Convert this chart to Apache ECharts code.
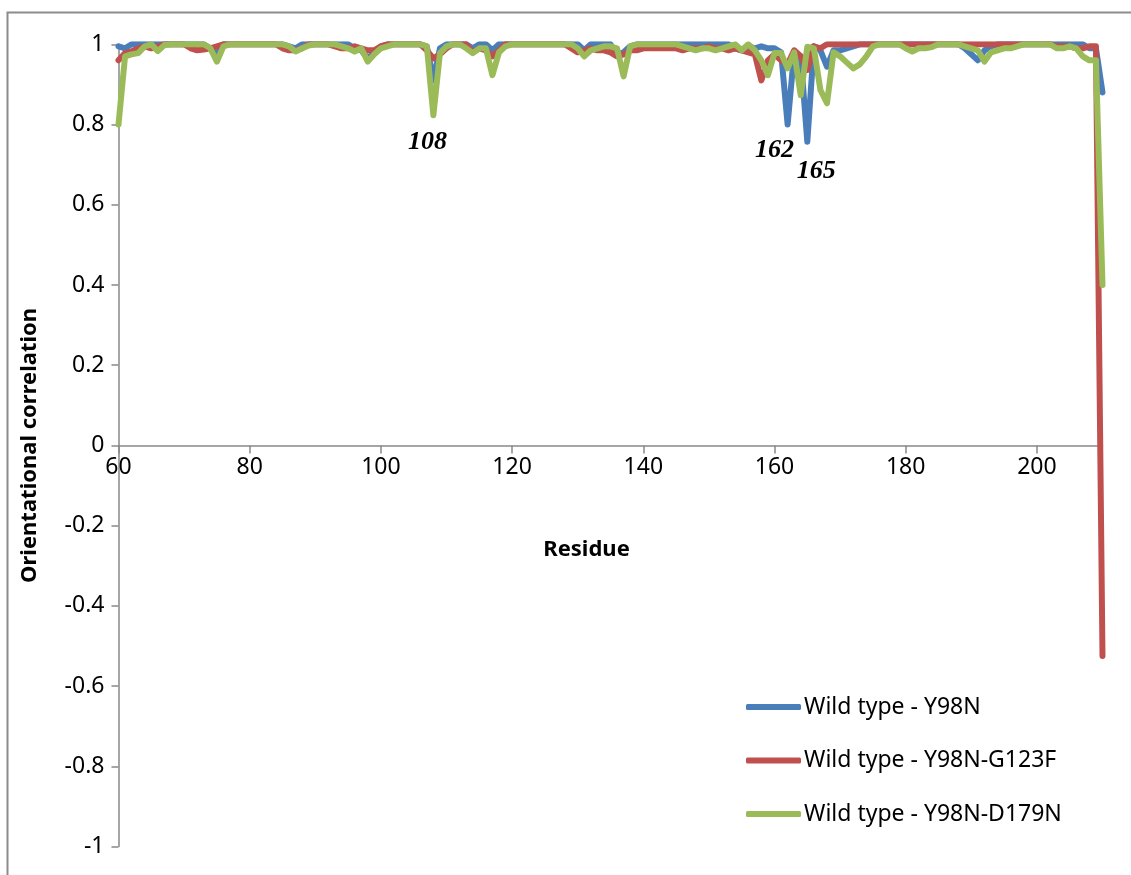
<!DOCTYPE html>
<html>
<head>
<meta charset="utf-8">
<script src="https://cdn.jsdelivr.net/npm/echarts@6/dist/echarts.min.js"></script>
<style>
  html, body { margin: 0; padding: 0; background: #ffffff; }
  #chart { width: 1131px; height: 875px; }
</style>
</head>
<body>
<div id="chart"></div>
<script>
// Orientational correlation per residue (residues 60..210)
const firstResidue = 60;

const wtY98N = [
  0.995, 0.99, 1.0, 1.0, 1.0, 1.0, 1.0, 1.0, 1.0, 1.0,          // 60-69
  1.0, 1.0, 1.0, 1.0, 0.99, 0.975, 1.0, 1.0, 1.0, 1.0,          // 70-79
  1.0, 1.0, 1.0, 1.0, 1.0, 1.0, 0.995, 0.99, 1.0, 1.0,          // 80-89
  1.0, 1.0, 1.0, 1.0, 1.0, 1.0, 0.99, 0.985, 0.965, 0.98,       // 90-99
  0.995, 1.0, 1.0, 1.0, 1.0, 1.0, 1.0, 0.995, 0.91, 0.99,       // 100-109
  1.0, 1.0, 1.0, 1.0, 0.99, 1.0, 1.0, 0.985, 1.0, 1.0,          // 110-119
  1.0, 1.0, 1.0, 1.0, 1.0, 1.0, 1.0, 1.0, 1.0, 1.0,             // 120-129
  1.0, 0.985, 1.0, 1.0, 1.0, 1.0, 0.975, 0.98, 0.995, 1.0,      // 130-139
  1.0, 1.0, 1.0, 1.0, 1.0, 1.0, 1.0, 1.0, 1.0, 1.0,             // 140-149
  1.0, 1.0, 1.0, 1.0, 0.99, 0.985, 0.995, 0.99, 0.995, 0.99,    // 150-159
  0.99, 0.98, 0.80, 0.98, 0.97, 0.757, 0.995, 0.985, 0.944, 0.985, // 160-169
  0.985, 0.99, 0.995, 1.0, 1.0, 1.0, 1.0, 1.0, 1.0, 1.0,        // 170-179
  1.0, 1.0, 1.0, 1.0, 1.0, 1.0, 1.0, 1.0, 1.0, 0.99,            // 180-189
  0.975, 0.96, 0.985, 0.995, 1.0, 1.0, 1.0, 1.0, 1.0, 1.0,      // 190-199
  1.0, 1.0, 1.0, 1.0, 1.0, 1.0, 1.0, 1.0, 0.99, 0.99,           // 200-209
  0.88                                                          // 210
];

const wtY98N_G123F = [
  0.96, 0.978, 0.982, 0.99, 0.995, 0.99, 0.995, 1.0, 1.0, 1.0,  // 60-69
  1.0, 0.99, 0.985, 0.987, 0.99, 0.995, 1.0, 1.0, 1.0, 1.0,     // 70-79
  1.0, 1.0, 1.0, 1.0, 1.0, 0.99, 0.985, 0.985, 0.99, 1.0,       // 80-89
  1.0, 1.0, 1.0, 0.995, 0.99, 0.99, 0.995, 0.99, 0.985, 0.985,  // 90-99
  0.995, 1.0, 1.0, 1.0, 1.0, 1.0, 1.0, 0.985, 0.965, 0.975,     // 100-109
  0.99, 1.0, 1.0, 1.0, 0.98, 0.99, 0.985, 0.97, 0.985, 1.0,     // 110-119
  1.0, 1.0, 1.0, 1.0, 1.0, 1.0, 1.0, 1.0, 1.0, 0.99,            // 120-129
  0.98, 0.985, 0.99, 0.985, 0.985, 0.98, 0.97, 0.975, 0.985, 0.985, // 130-139
  0.99, 0.99, 0.99, 0.99, 0.99, 0.99, 0.985, 0.99, 0.99, 0.99,  // 140-149
  0.995, 0.99, 0.99, 0.985, 0.99, 0.985, 0.98, 0.975, 0.91, 0.96, // 150-159
  0.975, 0.96, 0.95, 0.985, 0.97, 0.936, 0.995, 0.99, 1.0, 1.0, // 160-169
  1.0, 1.0, 1.0, 1.0, 1.0, 1.0, 1.0, 1.0, 1.0, 1.0,             // 170-179
  1.0, 1.0, 1.0, 1.0, 1.0, 1.0, 1.0, 1.0, 1.0, 1.0,             // 180-189
  1.0, 1.0, 1.0, 1.0, 1.0, 1.0, 1.0, 1.0, 1.0, 1.0,             // 190-199
  1.0, 1.0, 1.0, 0.995, 0.995, 0.995, 0.99, 0.99, 0.995, 0.995, // 200-209
  -0.525                                                        // 210
];

const wtY98N_D179N = [
  0.80, 0.97, 0.975, 0.978, 0.995, 1.0, 0.983, 0.998, 1.0, 1.0, // 60-69
  1.0, 1.0, 1.0, 1.0, 0.99, 0.957, 0.995, 1.0, 1.0, 1.0,        // 70-79
  1.0, 1.0, 1.0, 1.0, 1.0, 1.0, 0.995, 0.982, 0.99, 0.997,      // 80-89
  1.0, 1.0, 1.0, 1.0, 0.995, 0.99, 0.982, 0.99, 0.957, 0.975,   // 90-99
  0.99, 0.995, 1.0, 1.0, 1.0, 1.0, 1.0, 0.995, 0.823, 0.978,    // 100-109
  0.995, 1.0, 1.0, 0.99, 0.978, 0.99, 0.99, 0.923, 0.98, 0.995, // 110-119
  1.0, 1.0, 1.0, 1.0, 1.0, 1.0, 1.0, 1.0, 1.0, 1.0,             // 120-129
  0.99, 0.97, 0.985, 0.99, 0.995, 0.995, 0.99, 0.92, 0.995, 1.0, // 130-139
  1.0, 1.0, 1.0, 1.0, 1.0, 1.0, 0.995, 0.99, 0.985, 0.99,       // 140-149
  0.99, 0.985, 0.99, 0.995, 1.0, 0.985, 1.0, 0.985, 0.96, 0.923, // 150-159
  0.978, 0.978, 0.94, 0.98, 0.873, 0.994, 0.99, 0.886, 0.853, 0.98, // 160-169
  0.97, 0.955, 0.94, 0.95, 0.97, 0.995, 1.0, 1.0, 1.0, 1.0,     // 170-179
  0.99, 0.982, 0.99, 0.99, 0.993, 1.0, 1.0, 1.0, 1.0, 0.995,    // 180-189
  0.99, 0.985, 0.957, 0.98, 0.985, 0.99, 0.99, 0.995, 1.0, 1.0, // 190-199
  1.0, 1.0, 1.0, 0.99, 0.99, 0.995, 0.99, 0.97, 0.96, 0.96,     // 200-209
  0.4                                                           // 210
];

const seriesNames = [
  'Wild type - Y98N',
  'Wild type - Y98N-G123F',
  'Wild type - Y98N-D179N'
];
const seriesColors = ['#4a7ebb', '#c0504d', '#9bbb59'];

const xTicks = [60, 80, 100, 120, 140, 160, 180, 200];

// Residues called out below the dips
const calloutResidues = [108, 162, 165];

const residues = wtY98N.map((_, i) => firstResidue + i);
const pairs = values => values.map((v, i) => [residues[i], v]);
const valueAt = (values, residue) => values[residue - firstResidue];

const axisGray = '#898989';
const labelFont = 'Noto Sans';

// Plot frame in pixels; the residue axis is lifted to the zero line
const gridTop = 44.3;
const gridBottom = 28.5;
const chartHeight = 875;
const zeroLift = (chartHeight - gridBottom - gridTop) / 2;

const calloutLabel = (offset) => ({
  show: true,
  position: 'inside',
  offset: offset,
  formatter: '{b}',
  fontFamily: 'Liberation Serif',
  fontStyle: 'italic',
  fontWeight: 'bold',
  fontSize: 26,
  color: '#000000'
});

const lineSeries = (name, values, color, markPoints) => ({
  name: name,
  type: 'line',
  data: pairs(values),
  showSymbol: false,
  symbol: 'none',
  smooth: false,
  color: color,
  lineStyle: { width: 6, color: color, cap: 'round', join: 'round' },
  emphasis: { disabled: true },
  markPoint: markPoints ? {
    symbol: 'circle',
    symbolSize: 1,
    itemStyle: { color: 'rgba(0,0,0,0)' },
    animation: false,
    data: markPoints
  } : undefined
});

const chart = echarts.init(document.getElementById('chart'), null, { renderer: 'canvas' });

chart.setOption({
  animation: false,
  backgroundColor: '#ffffff',
  textStyle: { fontFamily: labelFont },
  graphic: [{
    type: 'rect',
    shape: { x: 7.5, y: 12.5, width: 1400, height: 1200 },
    style: { fill: 'none', stroke: '#8c8c8c', lineWidth: 2 },
    silent: true
  }],
  grid: { left: 118.5, top: gridTop, right: 28.5, bottom: gridBottom, outerBoundsMode: 'none', containLabel: false },
  legend: {
    orient: 'vertical',
    left: 741,
    top: 689,
    itemWidth: 55,
    itemHeight: 6,
    itemGap: 27.5,
    icon: 'roundRect',
    selectedMode: false,
    data: seriesNames,
    textStyle: { fontFamily: labelFont, fontSize: 23, color: '#000000', lineHeight: 26, padding: [0, 0, 0, -2] }
  },
  xAxis: {
    type: 'value',
    min: 60,
    max: 210,
    interval: 20,
    offset: -zeroLift,
    name: 'Residue',
    nameLocation: 'middle',
    nameGap: 93,
    nameTextStyle: { fontFamily: labelFont, fontWeight: 'bold', fontSize: 22, color: '#000000', padding: [0, 48, 0, 0] },
    axisLine: { onZero: false, lineStyle: { color: axisGray, width: 1.5 } },
    axisTick: { show: true, length: 8, customValues: xTicks, lineStyle: { color: axisGray, width: 1.5 } },
    axisLabel: { customValues: xTicks, margin: 11, fontFamily: labelFont, fontSize: 23, color: '#000000' },
    splitLine: { show: false }
  },
  yAxis: {
    type: 'value',
    min: -1,
    max: 1,
    interval: 0.2,
    name: 'Orientational correlation',
    nameLocation: 'middle',
    nameRotate: 90,
    nameGap: 78,
    nameTextStyle: { fontFamily: labelFont, fontWeight: 'bold', fontSize: 22, color: '#000000' },
    axisLine: { show: true, onZero: false, lineStyle: { color: axisGray, width: 1.5 } },
    axisTick: { show: true, length: 7, lineStyle: { color: axisGray, width: 1.5 } },
    axisLabel: { margin: 14, fontFamily: labelFont, fontSize: 23, color: '#000000' },
    splitLine: { show: false }
  },
  series: [
    lineSeries(seriesNames[0], wtY98N, seriesColors[0], [
      { name: String(calloutResidues[1]), coord: [calloutResidues[1], valueAt(wtY98N, calloutResidues[1])], label: calloutLabel([-13, 26]) },
      { name: String(calloutResidues[2]), coord: [calloutResidues[2], valueAt(wtY98N, calloutResidues[2])], label: calloutLabel([9, 30]) }
    ]),
    lineSeries(seriesNames[1], wtY98N_G123F, seriesColors[1]),
    lineSeries(seriesNames[2], wtY98N_D179N, seriesColors[2], [
      { name: String(calloutResidues[0]), coord: [calloutResidues[0], valueAt(wtY98N_D179N, calloutResidues[0])], label: calloutLabel([-6, 27]) }
    ])
  ]
});
</script>
</body>
</html>
